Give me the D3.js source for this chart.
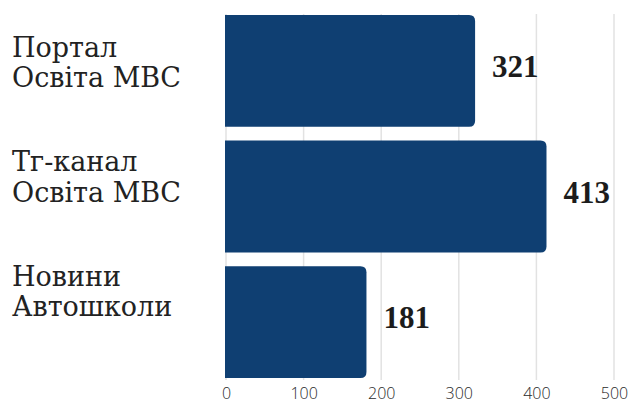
<!DOCTYPE html>
<html>
<head>
<meta charset="utf-8">
<script src="https://cdn.jsdelivr.net/npm/d3@7"></script>
<style>
  html, body { margin: 0; padding: 0; background: #fff; }
  svg { display: block; }
</style>
</head>
<body>
<svg id="chart" width="631" height="405"></svg>
<script>
const categories = ["Портал Освіта МВС", "Тг-канал Освіта МВС", "Новини Автошколи"];
const labelLines = [["Портал", "Освіта МВС"], ["Тг-канал", "Освіта МВС"], ["Новини", "Автошколи"]];
const values = [321, 413, 181];
const tickValues = [0, 100, 200, 300, 400, 500];

const svg = d3.select("#chart");

const x = d3.scaleLinear().domain([0, 500]).range([226, 614]);
const y = d3.scaleBand().domain(categories).range([8, 385]).paddingInner(0.11).paddingOuter(0.055);
const labelY = d3.scalePoint().domain(categories).range([56.7, 285.7]);

// gridlines
svg.append("g").selectAll("line").data(tickValues).join("line")
  .attr("x1", d => x(d)).attr("x2", d => x(d))
  .attr("y1", 14).attr("y2", 380)
  .attr("stroke", "#e2e2e2").attr("stroke-width", 1.5);

// bars with rounded right corners
const r = 6;
function barPath(x0, x1, y0, h) {
  return `M${x0},${y0} H${x1 - r} Q${x1},${y0} ${x1},${y0 + r} V${y0 + h - r} Q${x1},${y0 + h} ${x1 - r},${y0 + h} H${x0} Z`;
}
svg.append("g").selectAll("path").data(categories).join("path")
  .attr("d", (c, i) => barPath(x(0) - 1, x(values[i]), y(c), y.bandwidth()))
  .attr("fill", "#0f3f72");

// value labels
svg.append("g").selectAll("text").data(categories).join("text")
  .attr("x", (c, i) => x(values[i]) + 17)
  .attr("y", c => y(c) + y.bandwidth() / 2 + 6)
  .style("font-family", "'Liberation Serif', 'Times New Roman', serif")
  .style("font-weight", "bold")
  .style("font-size", "31px")
  .attr("fill", "#1c1c1c")
  .text((c, i) => values[i]);

// category labels (two lines each, one text element with tspans)
const cat = svg.append("g").selectAll("text").data(categories).join("text")
  .attr("x", 12)
  .attr("y", c => labelY(c))
  .style("font-family", "'DejaVu Serif', serif")
  .style("font-size", "27px")
  .attr("fill", "#222");
cat.selectAll("tspan").data((c, i) => labelLines[i]).join("tspan")
  .attr("x", 12)
  .attr("dy", (d, j) => j === 0 ? 0 : 30.5)
  .text(d => d);

// x-axis tick labels
const xAxis = d3.axisBottom(x).tickValues(tickValues).tickSize(0).tickPadding(0);
const ax = svg.append("g").attr("transform", "translate(0,387)").call(xAxis);
ax.select(".domain").remove();
ax.selectAll("text")
  .attr("dy", null)
  .attr("y", 12)
  .style("font-family", "'Open Sans', 'DejaVu Sans', sans-serif")
  .style("font-weight", 300)
  .style("font-size", "16px")
  .attr("fill", "#2a2a2a");
</script>
</body>
</html>
